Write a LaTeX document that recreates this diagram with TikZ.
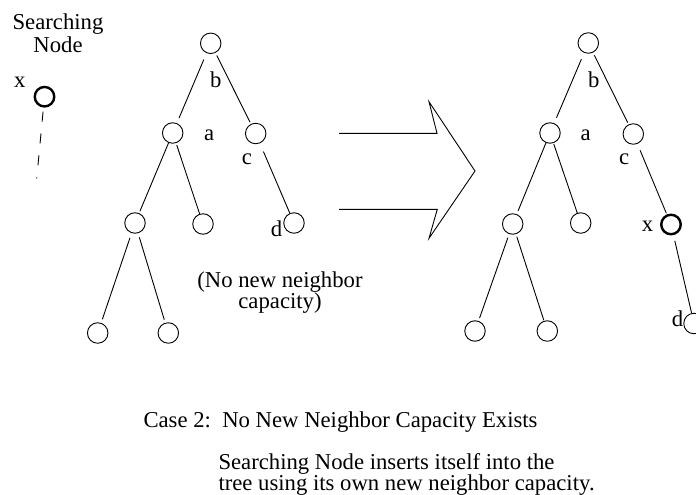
\documentclass[tikz,border=0pt]{standalone}
\usepackage{fontspec}
\setmainfont{Liberation Serif}
\begin{document}
\begin{tikzpicture}[x=1pt,y=-1pt,
  every node/.style={font=\fontsize{22.7}{20}\selectfont},
  tnode/.style={draw,circle,line width=0.9pt,minimum size=20.5pt,inner sep=0pt},
  snode/.style={draw,circle,line width=2.4pt,minimum size=19.5pt,inner sep=0pt},
  edge/.style={line width=0.9pt},
  lbl/.style={anchor=base west,inner sep=0pt},
  txt/.style={anchor=base,inner sep=0pt},
  txtl/.style={anchor=base west,inner sep=0pt}]
\useasboundingbox (0,0) rectangle (696,495);

% searching node on its own
\node[txt] (s1) at (58,30) {Searching};
\node[txt] (s2) at (58,53) {Node};
\node[snode] (x0) at (44.5,96.7) {};
\node[lbl] at (14,87.3) {x};
\coordinate (x0end) at (36.7,178.5);
\draw[edge,dash pattern=on 10pt off 12pt,shorten <=4pt] (x0) -- (x0end);

% tree before insertion
\node[tnode] (r1)  at (210.7,43.3) {};
\node[tnode] (a1)  at (172.7,133) {};
\node[tnode] (c1)  at (255.7,133.5) {};
\node[tnode] (al1) at (135,223) {};
\node[tnode] (ar1) at (203,224) {};
\node[tnode] (d1)  at (294,223) {};
\node[tnode] (l11) at (97.7,333) {};
\node[tnode] (l21) at (168.3,333) {};
\draw[edge,shorten <=7pt,shorten >=5.5pt] (r1) -- (a1);
\draw[edge,shorten <=3pt,shorten >=2pt] (r1) -- (c1);
\draw[edge,shorten >=2pt] (a1) -- (al1);
\draw[edge,shorten <=2pt] (a1) -- (ar1);
\draw[edge,shorten <=9pt] (c1) -- (d1);
\draw[edge,shorten <=5pt,shorten >=3.8pt] (al1) -- (l11);
\draw[edge,shorten <=4.3pt,shorten >=3.2pt] (al1) -- (l21);
\node[lbl] at (210,87.3) {b};
\node[lbl] at (204,140) {a};
\node[lbl] at (241.7,164) {c};
\node[lbl] at (270.7,236) {d};
\node[txt] (nn1) at (280,287.5) {(No new neighbor};
\node[txt] (nn2) at (280,308.5) {capacity)};

% block arrow
\draw[line width=0.9pt,line join=miter]
  (339,133.3) -- (437,133.3) -- (429,101.7) -- (475,171) -- (429,238.3)
  -- (437.3,209.3) -- (339,209.3);

% tree after insertion
\node[tnode] (r2)  at (588.3,43) {};
\node[tnode] (a2)  at (550,133) {};
\node[tnode] (c2)  at (633.3,134) {};
\node[tnode] (al2) at (512.7,224) {};
\node[tnode] (ar2) at (580.7,223) {};
\node[snode] (x2)  at (671,224.5) {};
\node[tnode] (d2)  at (694,323.5) {};
\node[tnode] (l12) at (475,331) {};
\node[tnode] (l22) at (547.3,331) {};
\draw[edge,shorten <=7pt,shorten >=5.8pt] (r2) -- (a2);
\draw[edge,shorten <=3pt,shorten >=2pt] (r2) -- (c2);
\draw[edge,shorten >=3.3pt] (a2) -- (al2);
\draw[edge,shorten <=1pt] (a2) -- (ar2);
\draw[edge,shorten <=7pt,shorten >=1.2pt] (c2) -- (x2);
\draw[edge,shorten <=5.8pt] (x2) -- (d2);
\draw[edge,shorten <=3.8pt,shorten >=3pt] (al2) -- (l12);
\draw[edge,shorten <=2.6pt,shorten >=0.5pt] (al2) -- (l22);
\node[lbl] at (588,87.3) {b};
\node[lbl] at (580.5,140) {a};
\node[lbl] at (619,164) {c};
\node[lbl] at (641.7,231.7) {x};
\node[lbl] at (671.7,326.7) {d};

% caption
\node[txtl] (cap) at (143.3,427.5) {Case 2:\ \ No New Neighbor Capacity Exists};
\node[txtl] (ex1) at (218.3,469) {Searching Node inserts itself into the};
\node[txtl] (ex2) at (218.3,490) {tree using its own new neighbor capacity.};
\end{tikzpicture}
\end{document}
